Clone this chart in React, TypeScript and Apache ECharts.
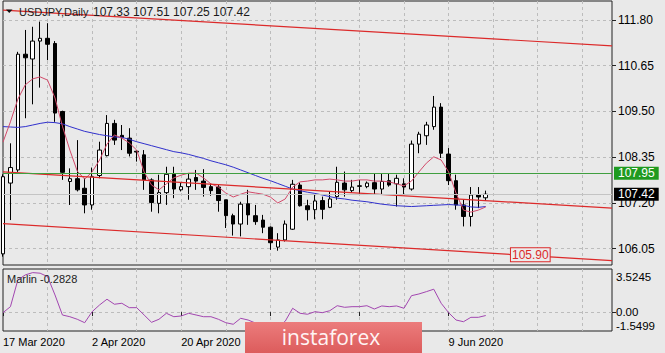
import React, { useEffect, useRef } from "react";
import * as echarts from "echarts";

const dates = [
  "17 Mar 2020", "18 Mar 2020", "19 Mar 2020", "20 Mar 2020", "23 Mar 2020", "24 Mar 2020", "25 Mar 2020", "26 Mar 2020", "27 Mar 2020", "30 Mar 2020", "31 Mar 2020",
  "1 Apr 2020", "2 Apr 2020", "3 Apr 2020", "6 Apr 2020", "7 Apr 2020", "8 Apr 2020", "9 Apr 2020", "10 Apr 2020", "13 Apr 2020", "14 Apr 2020", "15 Apr 2020",
  "16 Apr 2020", "17 Apr 2020", "20 Apr 2020", "21 Apr 2020", "22 Apr 2020", "23 Apr 2020", "24 Apr 2020", "27 Apr 2020", "28 Apr 2020", "29 Apr 2020", "30 Apr 2020",
  "1 May 2020", "4 May 2020", "5 May 2020", "6 May 2020", "7 May 2020", "8 May 2020", "11 May 2020", "12 May 2020", "13 May 2020", "14 May 2020", "15 May 2020",
  "18 May 2020", "19 May 2020", "20 May 2020", "21 May 2020", "22 May 2020", "25 May 2020", "26 May 2020", "27 May 2020", "28 May 2020", "29 May 2020",
  "1 Jun 2020", "2 Jun 2020", "3 Jun 2020", "4 Jun 2020", "5 Jun 2020", "8 Jun 2020", "9 Jun 2020", "10 Jun 2020", "11 Jun 2020", "12 Jun 2020", "15 Jun 2020", "16 Jun 2020",
];

const opens = [
  105.92, 107.70, 108.03, 110.94, 110.82, 111.27, 111.34, 111.21, 109.50, 107.74, 107.81,
  107.57, 107.15, 107.89, 108.39, 109.20, 108.90, 108.83, 108.50, 108.41, 107.78, 107.19,
  107.46, 107.92, 107.53, 107.61, 107.84, 107.75, 107.61, 107.60, 107.28, 106.88, 106.67,
  107.18, 106.88, 106.77, 106.59, 106.09, 106.27, 106.54, 107.65, 107.13, 107.03, 107.26,
  107.09, 107.36, 107.70, 107.51, 107.63, 107.61, 107.71, 107.55, 107.76, 107.68, 107.68,
  107.55, 108.68, 108.89, 109.12, 109.61, 108.43, 107.76, 107.15, 106.86, 107.40, 107.33,
];
const highs = [
  107.92, 108.70, 111.00, 111.55, 111.63, 111.76, 111.72, 111.27, 109.52, 108.07, 108.78,
  107.82, 108.09, 108.74, 109.41, 109.29, 109.16, 109.08, 108.53, 108.53, 107.82, 107.91,
  108.11, 108.11, 107.70, 107.95, 108.03, 108.05, 107.70, 107.65, 107.28, 106.93, 107.23,
  107.53, 107.15, 106.90, 106.61, 106.44, 106.76, 107.78, 107.71, 107.28, 107.40, 107.36,
  107.49, 108.11, 107.99, 107.78, 107.78, 107.74, 107.95, 107.93, 107.95, 107.91, 107.82,
  108.77, 108.99, 109.24, 109.89, 109.71, 108.58, 107.91, 107.28, 107.60, 107.60, 107.51,
];
const lows = [
  105.85, 106.77, 107.98, 109.33, 109.68, 110.10, 110.79, 109.24, 107.78, 107.15, 107.49,
  106.94, 107.03, 107.82, 108.37, 108.66, 108.53, 108.37, 108.24, 107.53, 106.98, 106.94,
  107.15, 107.32, 107.49, 107.28, 107.53, 107.36, 107.38, 106.98, 106.57, 106.38, 106.36,
  106.65, 106.65, 106.44, 106.02, 106.00, 106.23, 106.52, 107.11, 106.76, 106.79, 106.79,
  107.07, 107.28, 107.36, 107.45, 107.40, 107.57, 107.40, 107.40, 107.61, 107.11, 107.40,
  107.51, 108.45, 108.66, 109.04, 108.33, 107.65, 107.03, 106.61, 106.61, 107.07, 107.25,
];
const closes = [
  107.86, 108.09, 110.94, 110.85, 111.27, 111.34, 111.19, 109.46, 107.97, 107.81, 107.53,
  107.15, 107.86, 108.53, 109.20, 108.78, 108.84, 108.45, 108.48, 107.78, 107.21, 107.46,
  107.92, 107.55, 107.61, 107.80, 107.75, 107.59, 107.51, 107.26, 106.88, 106.67, 107.17,
  106.90, 106.73, 106.59, 106.20, 106.27, 106.67, 107.67, 107.13, 107.03, 107.25, 107.04,
  107.30, 107.72, 107.53, 107.60, 107.62, 107.70, 107.55, 107.74, 107.65, 107.82, 107.60,
  108.68, 108.93, 109.16, 109.61, 108.45, 107.76, 107.15, 106.86, 107.40, 107.35, 107.42,
];

const maFast = [
  108.73, 109.24, 109.81, 110.17, 110.32, 110.37, 110.29, 109.84, 109.13, 108.53, 108.00,
  107.80, 107.98, 108.28, 108.68, 108.91, 108.83, 108.71, 108.53, 107.98, 107.65, 107.53,
  107.68, 107.83, 107.90, 107.95, 107.95, 107.83, 107.68, 107.60, 107.45, 107.35, 107.42,
  107.48, 107.45, 107.42, 107.35, 107.20, 107.30, 107.60, 107.73, 107.75, 107.78, 107.78,
  107.80, 107.78, 107.75, 107.75, 107.78, 107.78, 107.75, 107.75, 107.73, 107.68, 107.63,
  107.75, 107.98, 108.20, 108.36, 108.28, 107.98, 107.45, 107.02, 106.97, 107.02, 107.10,
];
const maSlow = [
  109.12, 109.11, 109.10, 109.12, 109.16, 109.20, 109.23, 109.22, 109.19, 109.12, 109.06,
  109.00, 108.96, 108.92, 108.89, 108.86, 108.85, 108.80, 108.74, 108.69, 108.64, 108.59,
  108.54, 108.49, 108.46, 108.42, 108.37, 108.32, 108.26, 108.21, 108.16, 108.10, 108.03,
  107.96, 107.89, 107.82, 107.76, 107.69, 107.62, 107.55, 107.51, 107.47, 107.44, 107.40,
  107.36, 107.32, 107.30, 107.27, 107.25, 107.23, 107.20, 107.17, 107.15, 107.13, 107.12,
  107.11, 107.12, 107.13, 107.14, 107.15, 107.16, 107.15, 107.14, 107.10, 107.09, 107.11,
];
const marlin = [
  -0.05, 0.44, 2.63, 3.04, 3.23, 3.18, 2.90, 1.40, -0.24, -0.38, -0.59,
  -0.87, 0.03, 0.58, 1.05, 0.64, 0.72, 0.36, 0.36, -0.24, -0.84, -0.59,
  -0.10, -0.38, -0.32, -0.10, -0.24, -0.38, -0.38, -0.59, -0.87, -1.00, -0.51,
  -0.65, -0.90, -1.10, -1.30, -1.20, -0.75, 0.31, -0.10, -0.18, 0.03, -0.05,
  0.11, 0.52, 0.39, 0.44, 0.44, 0.52, 0.25, 0.50, 0.44, 0.50, 0.31,
  1.34, 1.48, 1.67, 1.87, 0.72, -0.05, -0.65, -0.79, -0.43, -0.43, -0.2828,
];

const priceTicks = [106.05, 107.2, 108.35, 109.5, 110.65, 111.8];
const marlinMin = -1.5499;
const marlinMax = 3.5245;
// where the max/min captions sit inside the sub-window (MT4 puts them just inside the edges)
const marlinLabelSpots = [-1.15, 0, 2.85];
const channelTop = [112.05, 111.15];
const channelMid = [107.98, 107.07];
const channelLow = [106.68, 105.75];
const resistanceLevel = 107.95;
const lastPrice = 107.42;
const targetLevel = 105.9;
const futureSlots = 17;
const hiddenDateIdx = [36, 48];

const FONT = "'Liberation Sans', Arial, sans-serif";

export default function App() {
  const ref = useRef<HTMLDivElement>(null);
  useEffect(() => {
    if (!ref.current) return;
    const chart = echarts.init(ref.current, null, { renderer: "svg" });
    const cats = dates.concat(Array.from({ length: futureSlots }, (_, k) => `f${k}`));
    const lastIdx = cats.length - 1;
    const candle = opens.map((o, i) => [o, closes[i], lows[i], highs[i]]);
    const n = opens.length - 1;
    const gridLine = { color: "#bcbcbc", type: [3, 3] as any, width: 1 };
    const channelStyle = { color: "#dc2a2a", width: 1.2 };

    chart.setOption({
      animation: false,
      backgroundColor: "#e9e9e9",
      textStyle: { fontFamily: FONT },
      grid: [
        { left: 3, top: 1, width: 609, height: 264, show: true, borderColor: "#222", borderWidth: 1, backgroundColor: "transparent" },
        { left: 3, top: 269, width: 609, height: 62, show: true, borderColor: "#222", borderWidth: 1, backgroundColor: "transparent" },
      ],
      xAxis: [
        {
          type: "category", gridIndex: 0, data: cats, boundaryGap: false,
          axisLine: { show: false }, axisTick: { show: false }, axisLabel: { show: false },
          splitLine: { show: true, interval: (i: number) => i % 6 === 0 && i > 0, lineStyle: gridLine },
        },
        {
          type: "category", gridIndex: 1, data: cats, boundaryGap: false,
          axisLine: { show: false },
          axisTick: { show: true, interval: (i: number) => i % 12 === 0 && i < dates.length, length: 4, lineStyle: { color: "#222" } },
          axisLabel: {
            show: true, interval: (i: number) => i % 12 === 0 && i < dates.length,
            formatter: (v: string, i: number) => (hiddenDateIdx.includes(i) ? "" : v),
            align: "left", margin: 5, color: "#000", fontSize: 11, fontFamily: FONT,
          },
          splitLine: { show: true, interval: (i: number) => i % 6 === 0 && i > 0, lineStyle: gridLine },
        },
      ],
      yAxis: [
        {
          type: "value", gridIndex: 0, position: "right", min: 105.64, max: 112.278,
          axisLine: { show: false },
          axisTick: { show: true, length: 4, customValues: priceTicks, lineStyle: { color: "#222" } },
          axisLabel: { customValues: priceTicks, formatter: (v: number) => v.toFixed(2), color: "#000", fontSize: 12, margin: 6, fontFamily: FONT },
          splitLine: { show: true, lineStyle: gridLine },
        },
        {
          type: "value", gridIndex: 1, position: "right", min: marlinMin, max: marlinMax,
          axisLine: { show: false },
          axisTick: { show: true, length: 4, customValues: [0], lineStyle: { color: "#222" } },
          axisLabel: {
            customValues: marlinLabelSpots, margin: 4, color: "#000", fontSize: 11.5, fontFamily: FONT, lineHeight: 11,
            formatter: (v: number) => {
              if (v > 1) return marlinMax.toFixed(4);
              if (v < -0.5) return marlinMin.toFixed(4);
              return "0.00";
            },
          },
          splitLine: { show: true, lineStyle: gridLine },
        },
      ],
      series: [
        {
          type: "candlestick", xAxisIndex: 0, yAxisIndex: 0, data: candle, barWidth: 4,
          itemStyle: { color: "#ffffff", color0: "#000000", borderColor: "#000000", borderColor0: "#000000", borderWidth: 1 },
          markLine: {
            silent: true, symbol: ["none", "none"], animation: false,
            data: [
              {
                yAxis: resistanceLevel, lineStyle: { color: "#3f9f3f", width: 1, type: "solid" },
                label: { show: true, position: "end", distance: 2, formatter: resistanceLevel.toFixed(2), backgroundColor: "#1f9a1f", color: "#fff", fontSize: 12, padding: [1, 4, 0, 4], fontFamily: FONT },
              },
              {
                yAxis: lastPrice, lineStyle: { color: "#c4c4c4", width: 1, type: "solid" },
                label: { show: true, position: "end", distance: 2, formatter: lastPrice.toFixed(2), backgroundColor: "#000", color: "#fff", fontSize: 12, padding: [1, 4, 0, 4], fontFamily: FONT },
              },
            ],
          },
          z: 2,
        },
        {
          type: "line", xAxisIndex: 0, yAxisIndex: 0, data: maSlow, symbol: "none",
          lineStyle: { color: "#3030cc", width: 1 }, z: 3,
        },
        {
          type: "line", xAxisIndex: 0, yAxisIndex: 0, data: maFast, symbol: "none",
          lineStyle: { color: "#d24a6a", width: 1 }, z: 3,
        },
        {
          type: "line", xAxisIndex: 0, yAxisIndex: 0, data: [[0, channelTop[0]], [lastIdx, channelTop[1]]], symbol: "none",
          lineStyle: channelStyle, z: 4,
        },
        {
          type: "line", xAxisIndex: 0, yAxisIndex: 0, data: [[0, channelMid[0]], [lastIdx, channelMid[1]]], symbol: "none",
          lineStyle: channelStyle, z: 4,
        },
        {
          type: "line", xAxisIndex: 0, yAxisIndex: 0, data: [[0, channelLow[0]], [lastIdx, channelLow[1]]], symbol: "none",
          lineStyle: channelStyle, z: 4,
          markPoint: {
            symbol: "rect", symbolSize: 0, silent: true,
            data: [{ coord: [71, targetLevel] }],
            label: {
              show: true, position: "inside", formatter: targetLevel.toFixed(2), color: "#dc2a2a", fontSize: 12, fontFamily: FONT,
              backgroundColor: "#ececec", borderColor: "#dc2a2a", borderWidth: 1, padding: [1, 1, 0, 1],
            },
          },
        },
        {
          type: "line", xAxisIndex: 1, yAxisIndex: 1, data: marlin, symbol: "none",
          lineStyle: { color: "#a246b0", width: 1 }, z: 3,
        },
      ],
      graphic: [
        { type: "polygon", shape: { points: [[6, 9.5], [12.5, 9.5], [9.25, 13]] }, style: { fill: "#111" }, z: 10 },
        { type: "text", x: 19, y: 12, style: { text: "USDJPY,Daily", fontSize: 11, fontFamily: FONT, fill: "#1a1a1a", verticalAlign: "middle" }, z: 10 },
        {
          type: "text", x: 93, y: 12, z: 10,
          style: {
            text: [opens[n], highs[n], lows[n], closes[n]].map((v) => v.toFixed(2)).join(" "),
            fontSize: 12, fontFamily: FONT, fill: "#1a1a1a", verticalAlign: "middle",
          },
        },
        { type: "text", x: 7, y: 279, style: { text: `Marlin ${marlin[n].toFixed(4)}`, fontSize: 11, fontFamily: FONT, fill: "#222", verticalAlign: "middle" }, z: 10 },
        {
          type: "rect", x: 245, y: 322, shape: { width: 177, height: 31 }, z: 20,
          style: {
            fill: new echarts.graphic.LinearGradient(0, 0, 0, 1, [
              { offset: 0, color: "#ec7c7c" },
              { offset: 1, color: "#dc5c5c" },
            ]),
          },
        },
        { type: "text", x: 331, y: 337, z: 21, style: { text: "instaforex", fontSize: 21, fontFamily: "'Open Sans', sans-serif", fill: "#fff4f4", align: "center", verticalAlign: "middle" } },
      ],
    });
    return () => chart.dispose();
  }, []);
  return <div ref={ref} style={{ position: "fixed", left: 0, top: 0, width: 665, height: 353 }} />;
}
